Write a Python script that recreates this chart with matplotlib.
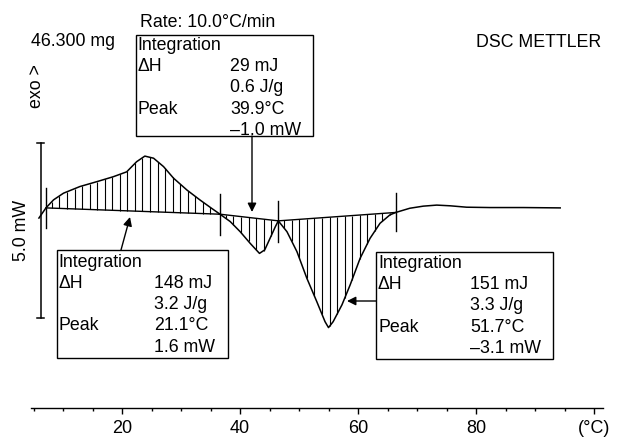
import numpy as np
import matplotlib
matplotlib.use("Agg")
import matplotlib.pyplot as plt
from matplotlib.patches import Rectangle

# ---------------- data ----------------
temp_c = [5.92, 7.11, 8.40, 10.08, 12.86, 15.74, 18.51, 20.79, 22.48, 23.87, 25.35,
          27.04, 28.73, 31.01, 33.19, 35.17, 36.61, 38.34, 40.03, 41.71, 43.30, 44.19,
          45.09, 45.98, 46.49, 47.96, 49.65, 51.33, 53.02, 54.41, 55.00, 55.79, 57.28,
          58.67, 60.36, 62.04, 63.73, 65.41, 66.40, 68.78, 71.06, 73.34, 75.62, 78.40,
          82.37, 88.02, 94.27]
heat_mw = [-0.23, 0.06, 0.29, 0.48, 0.67, 0.81, 0.95, 1.09, 1.38, 1.54, 1.48, 1.24,
           0.91, 0.57, 0.29, 0.05, -0.12, -0.33, -0.62, -0.95, -1.24, -1.14, -0.81,
           -0.48, -0.31, -0.62, -1.19, -1.95, -2.62, -3.19, -3.36, -3.19, -2.71,
           -2.14, -1.38, -0.81, -0.38, -0.14, -0.07, 0.05, 0.11, 0.14, 0.12, 0.08,
           0.07, 0.07, 0.06]

# integration limits (°C) and baseline values (mW) at each limit
limit_temps = [7.11, 36.61, 46.49, 66.40]
limit_base = [0.06, -0.12, -0.31, -0.07]

major_ticks = [20, 40, 60, 80, 100]
major_labels = ["20", "40", "60", "80", "(°C)"]
minor_ticks = list(range(5, 101, 5))

box_left = [("Integration", ""), ("ΔH", "148 mJ"), ("", "3.2 J/g"),
            ("Peak", "21.1°C"), ("", "1.6 mW")]
box_top = [("Integration", ""), ("ΔH", "29 mJ"), ("", "0.6 J/g"),
           ("Peak", "39.9°C"), ("", "–1.0 mW")]
box_right = [("Integration", ""), ("ΔH", "151 mJ"), ("", "3.3 J/g"),
             ("Peak", "51.7°C"), ("", "–3.1 mW")]

# ---------------- figure ----------------
W, H = 627, 438
plt.rcParams['font.family'] = ['Liberation Sans', 'DejaVu Sans']
fig = plt.figure(figsize=(W / 100, H / 100), dpi=100)
ax = fig.add_axes([0, 0, 1, 1])

PX_PER_C = 5.9

def t_of(px):
    return 20 + (px - 122) / PX_PER_C

def mw_of(py):
    return (210 - py) / 35.0

def fx(px):
    return px / W

def fy(py):
    return 1 - py / H

ax.set_xlim(t_of(0), t_of(W))
ax.set_ylim(mw_of(H), mw_of(0))
for s in ["top", "left", "right"]:
    ax.spines[s].set_visible(False)
ax.set_yticks([])

# bottom temperature axis
ax.spines["bottom"].set_position(("data", mw_of(407.7)))
ax.spines["bottom"].set_bounds(4.6, 101.5)
ax.spines["bottom"].set_linewidth(1.0)
ax.set_xticks(major_ticks)
ax.set_xticklabels(major_labels, fontsize=13)
ax.set_xticks(minor_ticks, minor=True)
ax.tick_params(axis="x", which="major", direction="out", length=4, width=1, pad=4.5)
ax.tick_params(axis="x", which="minor", direction="out", length=2, width=1)

# curve
ax.plot(temp_c, heat_mw, color="black", lw=1.1, solid_joinstyle="round")

# baselines, hatching, limit marks
tc = np.array(temp_c)
hm = np.array(heat_mw)
for i in range(3):
    t0, t1 = limit_temps[i], limit_temps[i + 1]
    b0, b1 = limit_base[i], limit_base[i + 1]
    ax.plot([t0, t1], [b0, b1], color="black", lw=1.0)
    xs = np.arange(t0 + 1.0, t1 - 0.2, 1.28)
    top = np.interp(xs, tc, hm)
    base = b0 + (b1 - b0) * (xs - t0) / (t1 - t0)
    ax.vlines(xs, base, top, color="black", lw=0.8)

limit_spans = [(0.63, -0.51), (0.46, -0.71), (0.26, -0.91), (0.50, -0.59)]
for t, (y0, y1) in zip(limit_temps, limit_spans):
    ax.plot([t, t], [y0, y1], color="black", lw=1.0)

# scale bar
sb_t, sb_top, sb_bot = 6.19, 1.914, -3.094
ax.plot([sb_t, sb_t], [sb_top, sb_bot], color="black", lw=1.1)
ax.plot([sb_t - 0.6, sb_t + 0.6], [sb_top, sb_top], color="black", lw=1.1)
ax.plot([sb_t - 0.6, sb_t + 0.6], [sb_bot, sb_bot], color="black", lw=1.1)

FS = 12.8
fig.text(fx(21.5), fy(230), "5.0 mW", rotation=90, ha="center", va="center", fontsize=FS)
fig.text(fx(36.5), fy(86), "exo >", rotation=90, ha="center", va="center", fontsize=FS)
fig.text(fx(31), fy(46), "46.300 mg", ha="left", va="baseline", fontsize=FS)
fig.text(fx(140), fy(27), "Rate: 10.0°C/min", ha="left", va="baseline", fontsize=FS)
fig.text(fx(601), fy(47), "DSC METTLER", ha="right", va="baseline", fontsize=FS)

def draw_box(rows, left, top, right, bottom, col2, first_base):
    fig.patches.append(Rectangle((fx(left), fy(bottom)), fx(right) - fx(left),
                                 fy(top) - fy(bottom), transform=fig.transFigure,
                                 fill=False, edgecolor="black", lw=1.0))
    for k, (a, b) in enumerate(rows):
        yb = first_base + k * 21.2
        if a:
            fig.text(fx(left + 2), fy(yb), a, ha="left", va="baseline", fontsize=FS)
        if b:
            fig.text(fx(col2), fy(yb), b, ha="left", va="baseline", fontsize=FS)

draw_box(box_top, 135.7, 35, 312.7, 136, 230, 50)
draw_box(box_left, 56.7, 250, 227.7, 358.3, 154.3, 266.8)
draw_box(box_right, 376, 251.7, 552.7, 359.3, 470, 268)

def arrow(x0, y0, x1, y1):
    ax.annotate("", xy=(fx(x1), fy(y1)), xycoords="figure fraction",
                xytext=(fx(x0), fy(y0)), textcoords="figure fraction",
                arrowprops=dict(arrowstyle="-|>", color="black", lw=1.0,
                                mutation_scale=13, shrinkA=0, shrinkB=0))

arrow(252, 136, 252, 212)
arrow(121, 250, 130, 217)
arrow(376, 301, 347, 301)

fig.savefig("out.png", dpi=100)
